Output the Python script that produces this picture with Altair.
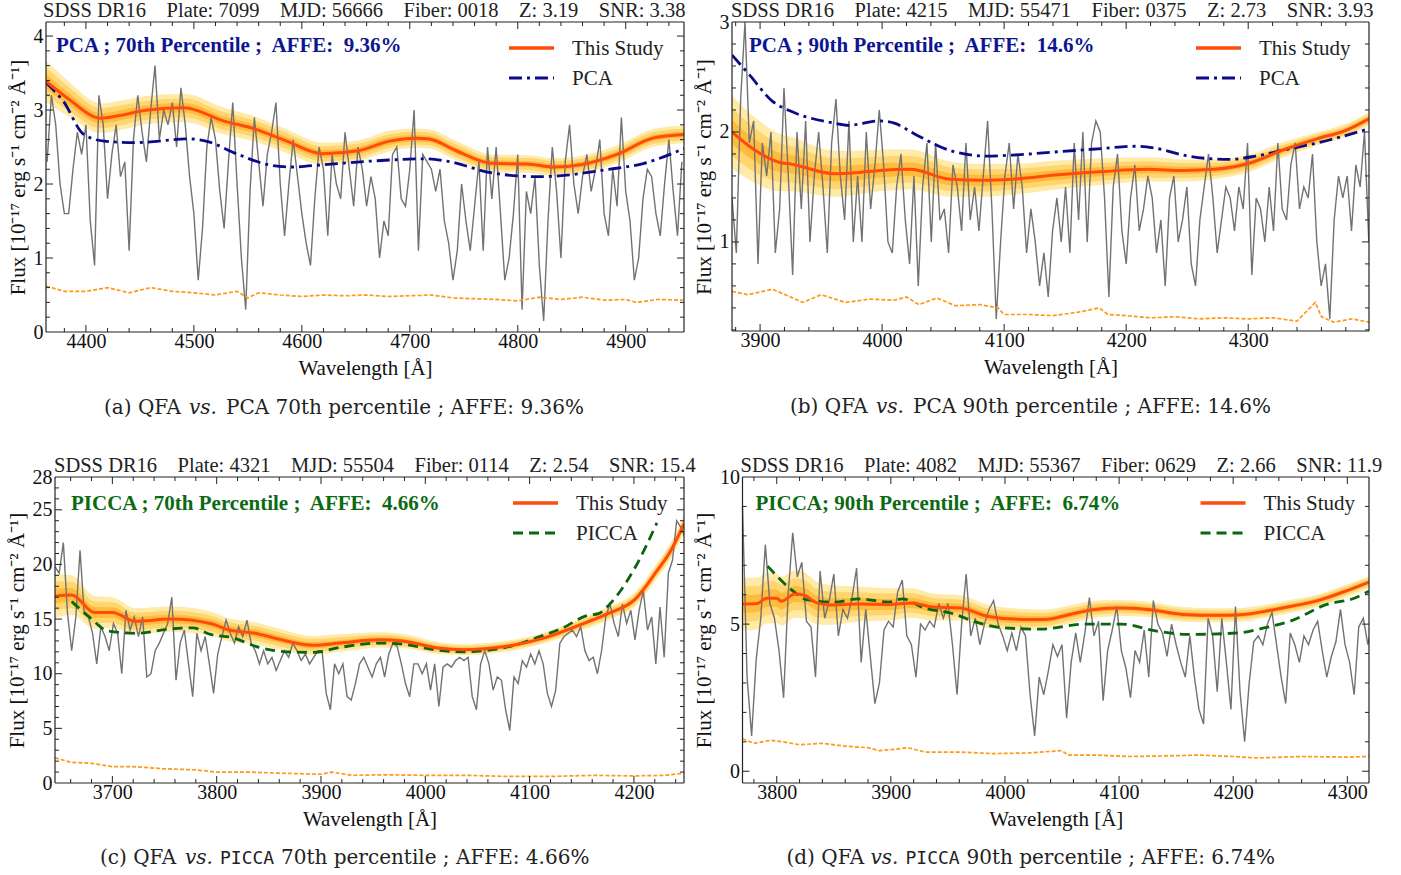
import altair as alt
import numpy as np
import pandas as pd

SERIF = "Liberation Serif"
CAP_FONT = "DejaVu Serif"
MONO = "DejaVu Sans Mono"

GRAY = "#727272"
FIT_COLOR = "#ff4b0c"
BANDS = ["#ffeaa8", "#ffd570", "#ffbc3c"]
NOISE_COLOR = "#ff9812"
PCA_COLOR = "#0b0b8a"
PICCA_COLOR = "#0a6410"
PCA_TEXT = "#0d1690"
PICCA_TEXT = "#0b6a12"
FRAME = "#222"

Y_TITLE = "Flux [10\u207b\u00b9\u2077 erg s\u207b\u00b9 cm\u207b\u00b2 \u00c5\u207b\u00b9]"
X_TITLE = "Wavelength [\u00c5]"
NB = "\u00a0"
GAP = NB * 4

# ---------------- (a) PCA, 70th percentile ----------------
a_spec_start, a_spec_step = 4364.0, 4.0
a_flux = [2.3, 3.2, 2.8, 2.0, 1.6, 1.6, 2.2, 2.7, 2.4, 2.8,
          1.5, 0.9, 3.2, 2.8, 1.8, 2.4, 2.8, 2.1, 2.3, 1.1,
          2.6, 3.2, 2.7, 2.3, 3.0, 3.6, 2.6, 3.0, 2.8, 3.1,
          2.5, 3.3, 2.8, 2.1, 1.6, 0.7, 1.4, 2.5, 2.9, 2.6,
          1.9, 1.4, 2.3, 3.1, 2.0, 1.0, 0.3, 1.9, 2.9, 2.3,
          1.7, 2.4, 2.7, 3.1, 2.0, 1.3, 2.0, 2.6, 2.1, 1.6,
          1.2, 0.9, 1.8, 2.5, 2.2, 1.3, 2.4, 2.0, 1.8, 2.7,
          2.2, 1.7, 2.5, 2.2, 1.7, 2.1, 1.8, 1.0, 1.5, 1.3,
          2.4, 2.5, 1.8, 1.7, 2.2, 3.0, 1.1, 2.4, 2.3, 2.2,
          1.9, 2.2, 1.5, 1.2, 0.7, 1.1, 2.0, 1.5, 1.1, 1.7,
          2.3, 1.1, 2.5, 1.8, 2.5, 1.6, 0.7, 1.0, 1.6, 2.4,
          0.3, 1.9, 1.6, 2.1, 0.9, 0.15, 1.5, 2.5, 1.9, 1.0,
          2.3, 2.8, 2.0, 1.6, 2.1, 2.4, 1.9, 2.2, 2.6, 1.6,
          1.3, 2.2, 1.7, 2.9, 1.9, 1.5, 0.7, 1.0, 1.8, 2.2,
          2.1, 1.6, 1.3, 2.0, 2.6, 1.9, 1.3, 2.3]
a_fit_wl = [4363, 4383, 4414, 4429, 4457, 4491, 4528, 4553, 4586, 4619, 4652,
            4681, 4706, 4718, 4743, 4776, 4809, 4834, 4858, 4892, 4925, 4954]
a_fit = [3.39, 3.16, 2.89, 2.92, 3.0, 3.03, 2.85, 2.76, 2.58, 2.41, 2.45,
         2.58, 2.62, 2.61, 2.45, 2.28, 2.27, 2.23, 2.26, 2.4, 2.62, 2.67]
a_half = [0.28, 0.24, 0.2, 0.2, 0.19, 0.19, 0.18, 0.17, 0.16, 0.15, 0.14,
          0.14, 0.13, 0.13, 0.13, 0.12, 0.12, 0.12, 0.12, 0.12, 0.12, 0.12]
a_ref_wl = [4363, 4379, 4398, 4417, 4445, 4495, 4511, 4541, 4569, 4590,
            4619, 4664, 4714, 4734, 4776, 4818, 4838, 4880, 4917, 4954]
a_ref = [3.37, 3.12, 2.67, 2.58, 2.56, 2.61, 2.58, 2.4, 2.26, 2.23,
         2.26, 2.31, 2.34, 2.31, 2.15, 2.1, 2.11, 2.19, 2.28, 2.48]
a_noise_wl = [4363, 4380, 4400, 4420, 4440, 4460, 4480, 4500, 4520, 4540, 4550,
              4560, 4580, 4600, 4620, 4640, 4660, 4680, 4700, 4720, 4740, 4760,
              4780, 4800, 4820, 4840, 4860, 4880, 4900, 4910, 4930, 4953]
a_noise = [0.62, 0.55, 0.55, 0.6, 0.53, 0.6, 0.55, 0.53, 0.5, 0.55, 0.46,
           0.53, 0.5, 0.48, 0.5, 0.49, 0.5, 0.48, 0.49, 0.5, 0.46, 0.45,
           0.44, 0.42, 0.47, 0.44, 0.47, 0.43, 0.44, 0.4, 0.44, 0.43]

# ---------------- (b) PCA, 90th percentile ----------------
b_spec_start, b_spec_step = 3877.0, 3.55
b_flux = [1.4, 0.9, 2.3, 3.0, 1.9, 2.1, 0.8, 1.9, 1.6, 2.0,
          0.9, 1.3, 2.4, 1.6, 0.7, 2.0, 1.3, 2.1, 1.0, 1.6,
          2.0, 1.5, 0.9, 1.9, 2.3, 1.6, 1.2, 2.1, 1.0, 1.6,
          1.0, 2.0, 1.3, 1.7, 2.2, 1.7, 1.0, 0.9, 1.5, 1.8,
          1.2, 0.8, 1.6, 0.6, 1.5, 1.9, 1.0, 1.9, 1.2, 1.3,
          0.9, 1.7, 1.5, 1.1, 1.9, 1.2, 1.5, 1.1, 1.6, 2.1,
          1.3, 0.3, 1.0, 1.6, 1.9, 1.3, 1.8, 1.5, 0.9, 1.3,
          1.0, 0.6, 0.9,
          0.5, 1.1, 1.4, 1.0, 1.5, 0.9, 1.9, 1.2, 2.0, 1.0,
          1.9, 2.1, 2.0, 1.4, 0.5, 1.5, 1.8, 1.1, 0.8, 1.4,
          1.7, 1.1, 1.3, 1.6, 1.4, 0.9, 1.2, 0.6, 1.4, 1.6,
          1.0, 1.2, 1.5, 0.8, 0.6, 1.2, 1.5, 1.8, 1.4, 0.9,
          1.2, 1.5, 1.4, 1.1, 1.5, 1.3, 1.9, 0.7, 1.4, 1.3,
          1.0, 1.5, 1.1, 1.9, 1.3, 1.2, 1.7, 1.9, 1.3, 1.5,
          1.4, 1.8, 1.0, 0.6, 0.8, 0.3, 1.2, 1.6, 1.4, 1.6,
          1.1, 1.7, 1.5, 2.0, 1.0]
b_fit_wl = [3877, 3895, 3917, 3924, 3961, 3979, 3998, 4023, 4056, 4082, 4107,
            4144, 4181, 4217, 4247, 4272, 4302, 4327, 4357, 4379, 4399]
b_fit = [2.0, 1.84, 1.72, 1.71, 1.62, 1.63, 1.65, 1.66, 1.57, 1.56, 1.57,
         1.61, 1.64, 1.66, 1.65, 1.66, 1.72, 1.83, 1.94, 2.01, 2.12]
b_half = [0.33, 0.3, 0.26, 0.25, 0.21, 0.2, 0.19, 0.18, 0.16, 0.15, 0.14,
          0.13, 0.12, 0.11, 0.1, 0.09, 0.08, 0.07, 0.06, 0.06, 0.06]
b_ref_wl = [3877, 3892, 3910, 3925, 3961, 3972, 3998, 4010, 4027, 4056, 4086,
            4107, 4144, 4181, 4207, 4225, 4251, 4284, 4306, 4327, 4364, 4399]
b_ref = [2.7, 2.51, 2.28, 2.19, 2.08, 2.06, 2.1, 2.08, 1.98, 1.83, 1.78,
         1.79, 1.82, 1.85, 1.87, 1.85, 1.78, 1.75, 1.78, 1.83, 1.92, 2.03]
b_noise_wl = [3877, 3890, 3910, 3925, 3935, 3950, 3970, 3990, 4010, 4020, 4030,
              4045, 4060, 4080, 4095, 4100, 4120, 4140, 4160, 4178, 4185, 4200,
              4220, 4240, 4260, 4280, 4300, 4320, 4340, 4355, 4360, 4370, 4385, 4399]
b_noise = [0.55, 0.52, 0.57, 0.5, 0.45, 0.52, 0.45, 0.48, 0.47, 0.5, 0.43,
           0.49, 0.42, 0.43, 0.4, 0.34, 0.34, 0.33, 0.36, 0.4, 0.34, 0.33,
           0.31, 0.32, 0.3, 0.31, 0.3, 0.31, 0.28, 0.45, 0.32, 0.27, 0.3, 0.27]

# ---------------- (c) PICCA, 70th percentile ----------------
c_spec_start, c_spec_step = 3645.0, 4.0
c_flux = [19.8, 19.2, 22.0, 15.5, 12.1, 15.2, 21.3, 15.5, 15.2, 13.7,
          10.9, 14.3, 13.4, 12.1, 14.6, 13.7, 10.0, 15.8, 14.0, 15.2,
          13.4, 15.2, 9.7, 10.0, 12.1, 12.8, 13.7, 14.6, 17.0, 9.4,
          12.8, 14.0, 10.9, 7.9, 13.7, 12.1, 13.4, 10.9, 8.2, 11.8,
          13.4, 14.9, 13.7, 12.8, 14.3, 13.4, 14.9, 12.8, 12.1, 10.9,
          12.1, 10.9, 11.5, 10.3, 11.2, 12.1, 11.5, 12.8, 12.1, 11.2,
          11.8, 10.9, 11.5, 12.1, 12.1, 8.2, 6.7, 10.9, 10.0, 10.9,
          7.9, 7.6, 9.1, 10.9, 11.5, 10.6, 9.7,
          10.9, 11.5, 9.7, 11.8, 12.8, 12.5, 10.9, 9.1, 7.9, 10.9,
          10.9, 10.0, 10.9, 8.5, 10.9, 7.0, 10.6, 10.9, 10.6, 11.2,
          11.5, 11.2, 11.5, 7.9, 6.7, 10.9, 12.1, 10.9, 8.5, 9.7,
          9.4, 6.7, 4.8, 9.7, 9.1, 11.2, 10.6, 11.8, 10.9, 12.1,
          10.9, 8.2, 7.0, 8.5, 12.8, 13.4, 13.7, 14.0, 13.4, 14.3,
          12.1, 11.2, 11.5, 10.0, 12.1, 15.2, 16.4, 14.6, 13.4, 16.4,
          14.6, 15.8, 13.1, 15.8, 17.6, 14.0, 15.2, 10.9, 16.1, 11.5,
          19.2, 20.4, 24.0, 23.4, 22.5]
c_fit_wl = [3645, 3661, 3683, 3700, 3722, 3756, 3794, 3812, 3837, 3858, 3893, 3918,
            3956, 3978, 4012, 4038, 4064, 4089, 4115, 4149, 4175, 4201, 4222, 4235, 4248]
c_fit = [17.1, 17.2, 15.6, 15.6, 14.8, 15.0, 14.6, 14.0, 13.7, 13.2, 12.6, 12.8,
         13.1, 13.0, 12.35, 12.2, 12.35, 12.7, 13.3, 14.5, 15.5, 16.8, 19.4, 21.2, 23.7]
c_half = [2.0, 1.8, 1.5, 1.4, 1.2, 1.15, 1.1, 1.05, 1.0, 0.95, 0.85, 0.8,
          0.7, 0.65, 0.55, 0.5, 0.5, 0.5, 0.5, 0.55, 0.6, 0.65, 0.7, 0.75, 0.8]
c_ref_wl = [3661, 3679, 3696, 3722, 3756, 3777, 3794, 3815, 3841, 3867, 3893, 3918,
            3956, 3978, 4012, 4038, 4064, 4089, 4107, 4132, 4154, 4166, 4179, 4201, 4222]
c_ref = [16.6, 15.1, 13.9, 13.7, 14.1, 14.2, 13.6, 13.3, 12.4, 12.0, 11.95, 12.4,
         12.8, 12.7, 12.15, 12.0, 12.2, 12.7, 13.3, 14.2, 15.3, 15.5, 16.6, 19.7, 23.8]
c_noise_wl = [3645, 3660, 3680, 3700, 3720, 3750, 3780, 3800, 3830, 3860, 3900,
              3910, 3930, 3960, 4000, 4040, 4080, 4120, 4160, 4200, 4230, 4248]
c_noise = [2.3, 1.9, 1.8, 1.5, 1.5, 1.3, 1.2, 1.0, 1.0, 0.9, 0.8,
           1.0, 0.7, 0.75, 0.7, 0.7, 0.6, 0.6, 0.7, 0.65, 0.7, 0.9]

# ---------------- (d) PICCA, 90th percentile ----------------
d_spec_start, d_spec_step = 3770.0, 4.0
d_flux = [9.0, 3.2, 1.2, 3.8, 5.2, 7.7, 5.7, 5.2, 4.1, 2.5,
          6.0, 8.1, 6.6, 7.1, 5.1, 4.9, 3.2, 6.8, 5.2, 5.8,
          6.7, 4.6, 5.5, 5.2, 5.9, 6.9, 3.7, 5.5, 3.9, 2.3,
          3.0, 4.8, 5.1, 4.9, 6.1, 6.5, 4.6, 4.3, 3.2, 5.0,
          4.8, 5.1, 4.9, 5.7, 5.2, 5.7, 4.3, 2.6, 5.0, 6.7,
          4.6, 5.2, 4.3, 5.0, 5.5, 5.8, 5.0, 4.6, 4.1, 4.7,
          4.1, 4.9, 4.6, 2.6, 1.2, 3.2, 2.6, 3.4, 4.3, 3.9,
          4.3, 1.8, 3.7, 4.7, 3.7, 4.7, 5.9, 4.6, 5.1, 2.4,
          4.1, 4.8, 5.6, 4.1, 3.5, 2.5, 4.1, 3.7, 4.8, 3.2,
          5.8, 5.0, 4.7, 3.9, 5.0, 4.3, 3.7, 3.2, 4.6, 3.2,
          2.1, 1.6, 5.2, 4.6, 2.7, 5.2, 3.7, 2.1, 5.6, 2.7,
          1.0, 3.0, 4.4, 4.6, 4.3, 5.0, 5.4, 4.3, 3.2, 2.3,
          4.7, 4.3, 3.7, 4.6, 4.3, 4.8, 5.1, 4.1, 3.2, 3.9,
          4.4, 5.5, 4.3, 3.7, 2.6, 4.9, 5.2, 4.3, 5.1]
d_fit_wl = [3770, 3783, 3791, 3800, 3804, 3816, 3824, 3835, 3847, 3871, 3898, 3918,
            3937, 3961, 3984, 4015, 4035, 4055, 4078, 4102, 4125, 4156, 4184, 4207,
            4227, 4250, 4274, 4297, 4319]
d_fit = [5.68, 5.7, 5.88, 5.88, 5.78, 6.02, 5.98, 5.72, 5.65, 5.68, 5.67, 5.72,
         5.58, 5.55, 5.27, 5.16, 5.16, 5.31, 5.5, 5.55, 5.5, 5.33, 5.3, 5.32,
         5.43, 5.6, 5.8, 6.1, 6.43]
d_half = [0.9, 0.88, 0.86, 0.84, 0.83, 0.8, 0.78, 0.72, 0.68, 0.6, 0.55, 0.5,
          0.46, 0.43, 0.4, 0.36, 0.33, 0.31, 0.29, 0.27, 0.26, 0.25, 0.24, 0.23,
          0.22, 0.22, 0.21, 0.21, 0.2]
d_ref_wl = [3792, 3812, 3827, 3851, 3871, 3898, 3910, 3929, 3953, 3977, 4000,
            4031, 4071, 4102, 4133, 4161, 4204, 4227, 4250, 4282, 4306, 4319]
d_ref = [6.97, 6.2, 5.82, 5.75, 5.86, 5.75, 5.86, 5.55, 5.37, 5.04, 4.87,
         4.83, 5.0, 5.0, 4.76, 4.65, 4.7, 4.87, 5.1, 5.67, 5.88, 6.12]
d_noise_wl = [3770, 3780, 3795, 3805, 3820, 3840, 3860, 3880, 3890, 3905, 3915, 3930,
              3960, 3990, 4020, 4050, 4055, 4080, 4110, 4140, 4170, 4200, 4220,
              4260, 4300, 4319]
d_noise = [1.1, 0.95, 1.05, 1.0, 0.9, 0.95, 0.85, 0.8, 0.7, 0.75, 0.8, 0.65,
           0.65, 0.6, 0.62, 0.7, 0.55, 0.55, 0.5, 0.52, 0.55, 0.5, 0.45,
           0.5, 0.48, 0.5]

# Each panel occupies a cell of fixed width; "inset" is the gap between the
# cell's left edge and the frame, so the two columns keep their own offsets.
panels = [
    dict(width=638, inset=0, height=310, xdom=[4363, 4954], ydom=[0, 4.19],
         xticks=[4400, 4500, 4600, 4700, 4800, 4900], xminor=20,
         yticks=[0, 1, 2, 3, 4], yminor=0.2,
         header=GAP.join(["SDSS DR16", "Plate: 7099", "MJD: 56666", "Fiber: 0018", "Z: 3.19", "SNR: 3.38"]),
         header_x=-3,
         label=f"PCA ; 70th Percentile ;{NB} AFFE:{NB} 9.36%", label_color=PCA_TEXT, label_x=10, label_y=30,
         ref_name="PCA", ref_color=PCA_COLOR, ref_dash=[13, 5, 3, 5],
         spec=(a_spec_start, a_spec_step, a_flux), fit=(a_fit_wl, a_fit, a_half),
         ref=(a_ref_wl, a_ref), noise=(a_noise_wl, a_noise), legend_x=463,
         caption=[("(a) QFA", CAP_FONT, "normal", 58), ("vs.", CAP_FONT, "italic", 143),
                  ("PCA 70th percentile ; AFFE: 9.36%", CAP_FONT, "normal", 180)],
         cap_dy=82),
    dict(width=637, inset=0, height=309, xdom=[3877, 4399], ydom=[0.19, 3.0],
         xticks=[3900, 4000, 4100, 4200, 4300], xminor=20,
         yticks=[1, 2, 3], yminor=0.2,
         header=GAP.join(["SDSS DR16", "Plate: 4215", "MJD: 55471", "Fiber: 0375", "Z: 2.73", "SNR: 3.93"]),
         header_x=-1,
         label=f"PCA ; 90th Percentile ;{NB} AFFE:{NB} 14.6%", label_color=PCA_TEXT, label_x=17, label_y=30,
         ref_name="PCA", ref_color=PCA_COLOR, ref_dash=[13, 5, 3, 5],
         spec=(b_spec_start, b_spec_step, b_flux), fit=(b_fit_wl, b_fit, b_half),
         ref=(b_ref_wl, b_ref), noise=(b_noise_wl, b_noise), legend_x=464,
         caption=[("(b) QFA", CAP_FONT, "normal", 58), ("vs.", CAP_FONT, "italic", 144),
                  ("PCA 90th percentile ; AFFE: 14.6%", CAP_FONT, "normal", 181)],
         cap_dy=82),
    dict(width=638, inset=9, height=306, xdom=[3645, 4248], ydom=[0, 28],
         xticks=[3700, 3800, 3900, 4000, 4100, 4200], xminor=20,
         yticks=[0, 5, 10, 15, 20, 25, 28], yminor=1,
         header=GAP.join(["SDSS DR16", "Plate: 4321", "MJD: 55504", "Fiber: 0114", "Z: 2.54", "SNR: 15.4"]),
         header_x=-1,
         label=f"PICCA ; 70th Percentile ;{NB} AFFE:{NB} 4.66%", label_color=PICCA_TEXT, label_x=16, label_y=33,
         ref_name="PICCA", ref_color=PICCA_COLOR, ref_dash=[10, 6],
         spec=(c_spec_start, c_spec_step, c_flux), fit=(c_fit_wl, c_fit, c_half),
         ref=(c_ref_wl, c_ref), noise=(c_noise_wl, c_noise), legend_x=458,
         caption=[("(c) QFA", CAP_FONT, "normal", 45), ("vs.", CAP_FONT, "italic", 130),
                  ("PICCA", MONO, "normal", 165),
                  ("70th percentile ; AFFE: 4.66%", CAP_FONT, "normal", 226)],
         cap_dy=81),
    dict(width=637, inset=10.5, height=306, xdom=[3770, 4319], ydom=[-0.4, 10],
         xticks=[3800, 3900, 4000, 4100, 4200, 4300], xminor=20,
         yticks=[0, 5, 10], yminor=1,
         header=GAP.join(["SDSS DR16", "Plate: 4082", "MJD: 55367", "Fiber: 0629", "Z: 2.66", "SNR: 11.9"]),
         header_x=-2,
         label=f"PICCA; 90th Percentile ;{NB} AFFE:{NB} 6.74%", label_color=PICCA_TEXT, label_x=13, label_y=33,
         ref_name="PICCA", ref_color=PICCA_COLOR, ref_dash=[10, 6],
         spec=(d_spec_start, d_spec_step, d_flux), fit=(d_fit_wl, d_fit, d_half),
         ref=(d_ref_wl, d_ref), noise=(d_noise_wl, d_noise), legend_x=458,
         caption=[("(d) QFA", CAP_FONT, "normal", 44), ("vs.", CAP_FONT, "italic", 128),
                  ("PICCA", MONO, "normal", 163),
                  ("90th percentile ; AFFE: 6.74%", CAP_FONT, "normal", 224)],
         cap_dy=81),
]

one_row = pd.DataFrame({"k": [0]})


def text_layer(text, x, y, size, color="#111", font=SERIF, weight="normal", style="normal",
               align="left", baseline="alphabetic"):
    return alt.Chart(one_row).mark_text(
        text=text, font=font, fontSize=size, fontWeight=weight, fontStyle=style,
        color=color, align=align, baseline=baseline,
    ).encode(x=alt.value(x), y=alt.value(y))


def rule_px(x, x2, y, y2, color=FRAME, width=1.2):
    return alt.Chart(one_row).mark_rule(color=color, strokeWidth=width).encode(
        x=alt.value(x), x2=alt.value(x2), y=alt.value(y), y2=alt.value(y2))


def build_panel(p):
    W, H, I = p["width"], p["height"], p["inset"]
    xs = alt.Scale(domain=p["xdom"], range=[I, W], nice=False, zero=False)
    ys = alt.Scale(domain=p["ydom"], nice=False, zero=False)
    xaxis = alt.Axis(values=p["xticks"], format="d", title=X_TITLE, ticks=False, domain=False,
                     grid=False, labelPadding=-1, titlePadding=6, labelFlush=False,
                     titleX=I + (W - I) / 2)
    yaxis = alt.Axis(values=p["yticks"], format="d", title=Y_TITLE, ticks=False, domain=False,
                     grid=False, labelPadding=3 - I, titlePadding=5, labelFlush=False)
    X = lambda f: alt.X(f, scale=xs, axis=xaxis)
    Y = lambda f: alt.Y(f, scale=ys, axis=yaxis)

    start, step, flux = p["spec"]
    spec = pd.DataFrame({"wl": start + step * np.arange(len(flux)), "flux": flux})
    fwl, ffl, fhalf = p["fit"]
    fit = pd.DataFrame({"wl": fwl, "fit": ffl, "half": fhalf})
    for k, frac in enumerate([1.0, 0.67, 0.34]):
        fit[f"lo{k}"] = fit["fit"] - frac * fit["half"]
        fit[f"hi{k}"] = fit["fit"] + frac * fit["half"]
    ref = pd.DataFrame({"wl": p["ref"][0], "flux": p["ref"][1]})
    noise = pd.DataFrame({"wl": p["noise"][0], "flux": p["noise"][1]})

    layers = []
    for k in range(3):
        layers.append(alt.Chart(fit).mark_area(interpolate="monotone", color=BANDS[k], clip=True)
                      .encode(x=X("wl:Q"), y=Y(f"lo{k}:Q"), y2=f"hi{k}:Q"))
    layers.append(alt.Chart(spec).mark_line(interpolate="linear", color=GRAY, strokeWidth=1.4, clip=True)
                  .encode(x=X("wl:Q"), y=Y("flux:Q")))
    layers.append(alt.Chart(noise).mark_line(color=NOISE_COLOR, strokeWidth=1.7, strokeDash=[4, 2], clip=True)
                  .encode(x=X("wl:Q"), y=Y("flux:Q")))
    layers.append(alt.Chart(ref).mark_line(interpolate="monotone", color=p["ref_color"], strokeWidth=2.8,
                                           strokeDash=p["ref_dash"], clip=True)
                  .encode(x=X("wl:Q"), y=Y("flux:Q")))
    layers.append(alt.Chart(fit).mark_line(interpolate="monotone", color=FIT_COLOR, strokeWidth=3, clip=True)
                  .encode(x=X("wl:Q"), y=Y("fit:Q")))

    # frame
    layers.append(rule_px(I, W, 0, 0))
    layers.append(rule_px(I, W, H, H))
    layers.append(rule_px(I, I, 0, H))
    layers.append(rule_px(W, W, 0, H))

    # inward ticks on all four sides
    x0, x1 = p["xdom"]
    y0, y1 = p["ydom"]
    xm = [float(v) for v in np.arange(np.ceil(x0 / p["xminor"]) * p["xminor"], x1, p["xminor"])
          if v not in p["xticks"]]
    ym = [round(float(v), 3) for v in
          np.arange(np.ceil(y0 / p["yminor"] - 1e-9) * p["yminor"], y1 + 1e-9, p["yminor"])]
    ym = [v for v in ym if all(abs(v - t) > 1e-6 for t in p["yticks"]) and y0 < v < y1]
    xt = list(p["xticks"])
    yt = [v for v in p["yticks"] if y0 < v < y1]
    for vals, L in [(xt, 7), (xm, 4)]:
        d = pd.DataFrame({"v": vals})
        layers.append(alt.Chart(d).mark_rule(color=FRAME, strokeWidth=1)
                      .encode(x=X("v:Q"), y=alt.value(H), y2=alt.value(H - L)))
        layers.append(alt.Chart(d).mark_rule(color=FRAME, strokeWidth=1)
                      .encode(x=X("v:Q"), y=alt.value(0), y2=alt.value(L)))
    for vals, L in [(yt, 7), (ym, 4)]:
        d = pd.DataFrame({"v": vals})
        layers.append(alt.Chart(d).mark_rule(color=FRAME, strokeWidth=1)
                      .encode(y=Y("v:Q"), x=alt.value(I), x2=alt.value(I + L)))
        layers.append(alt.Chart(d).mark_rule(color=FRAME, strokeWidth=1)
                      .encode(y=Y("v:Q"), x=alt.value(W), x2=alt.value(W - L)))

    # legend drawn inside the frame
    lx = I + p["legend_x"]
    layers.append(alt.Chart(one_row).mark_rule(color=FIT_COLOR, strokeWidth=3.5)
                  .encode(x=alt.value(lx), x2=alt.value(lx + 45), y=alt.value(26)))
    layers.append(alt.Chart(one_row).mark_rule(color=p["ref_color"], strokeWidth=3, strokeDash=p["ref_dash"])
                  .encode(x=alt.value(lx), x2=alt.value(lx + 45), y=alt.value(56)))
    layers.append(text_layer("This Study", lx + 63, 33, 21, color="#222"))
    layers.append(text_layer(p["ref_name"], lx + 63, 63, 21, color="#222"))

    # bold in-plot annotation, header above, caption below
    layers.append(text_layer(p["label"], I + p["label_x"], p["label_y"], 21,
                             color=p["label_color"], weight="bold"))
    layers.append(text_layer(p["header"], I + p["header_x"], -5, 20.5, color="#222"))
    for txt, font, style, x in p["caption"]:
        layers.append(text_layer(txt, I + x, H + p["cap_dy"], 20 if font != MONO else 18,
                                 color="#222", font=font, style=style))

    return alt.layer(*layers).properties(width=W, height=H)


a, b, c, d = [build_panel(p) for p in panels]

chart = alt.concat(
    a, b, c, d, columns=2, align="none", bounds="flush",
    spacing={"row": 145, "column": 48},
).properties(
    background="white",
    padding={"left": 6, "top": 1, "right": 5, "bottom": 5},
).configure_view(
    stroke=None
).configure_axis(
    labelFont=SERIF, labelFontSize=20, labelColor="#111",
    titleFont=SERIF, titleFontSize=21, titleFontWeight="normal", titleColor="#111",
)

chart.save("out.html", embed_options={"renderer": "svg", "actions": False})
